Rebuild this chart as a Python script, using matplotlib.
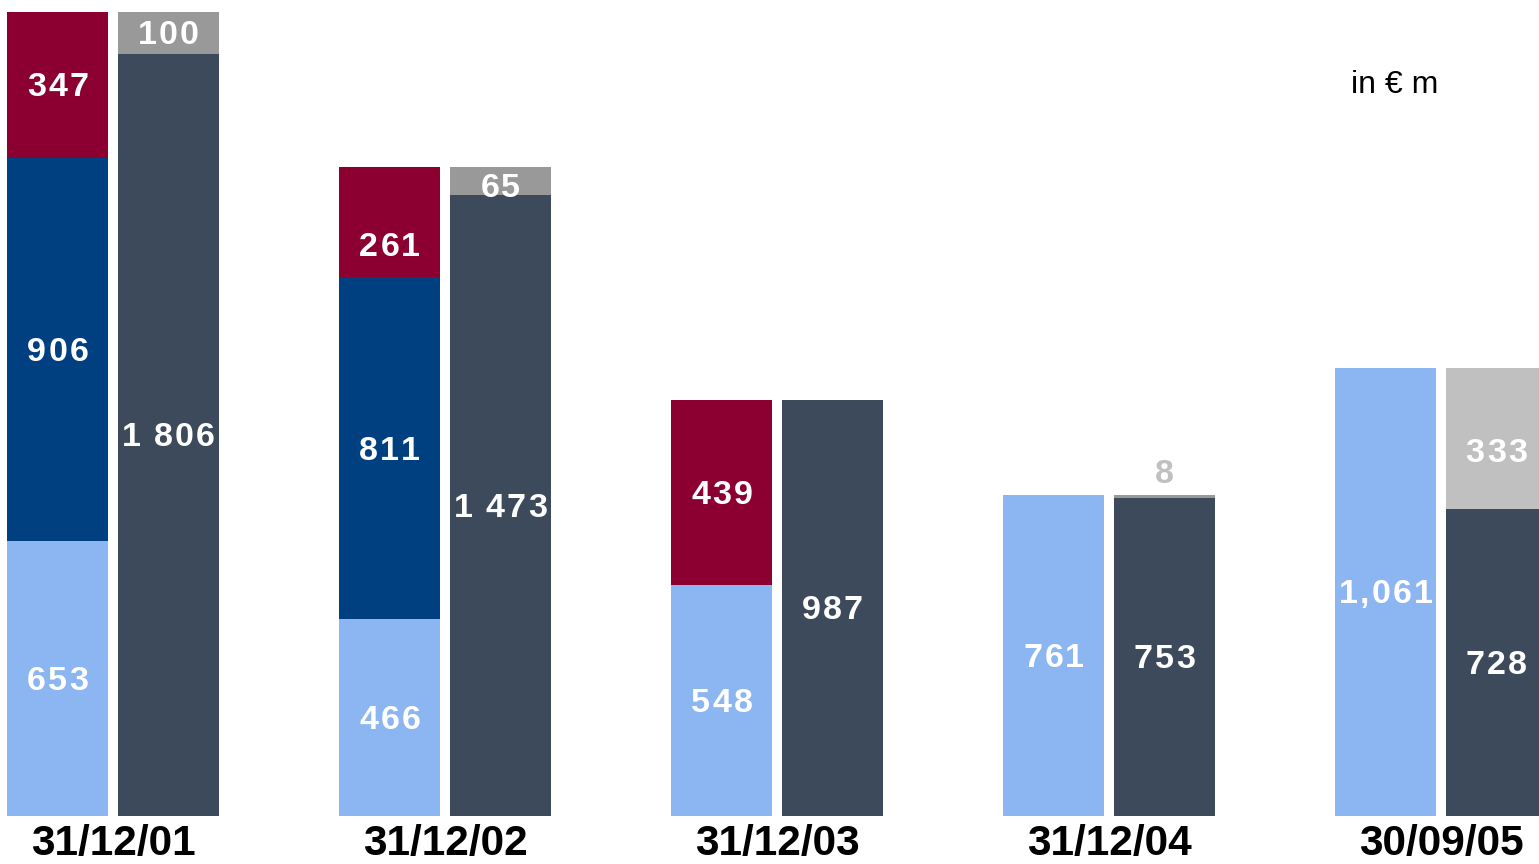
import numpy as np
import matplotlib.pyplot as plt

plt.rcParams['font.family'] = ['Liberation Sans', 'DejaVu Sans']

dates = ['31/12/01', '31/12/02', '31/12/03', '31/12/04', '30/09/05']

# left bar stack (bottom -> top)
light_blue = [653, 466, 548, 761, 1061]
dark_blue = [906, 811, 0, 0, 0]
crimson = [347, 261, 439, 0, 0]

# right bar stack (bottom -> top)
slate = [1806, 1473, 987, 753, 728]
top_grey = [100, 65, 0, 8, 333]

slate_labels = ['1 806', '1 473', '987', '753', '728']
light_labels = ['653', '466', '548', '761', '1,061']
grey_colors = ['#999999', '#999999', '#999999', '#999999', '#C0C0C0']

C_LIGHT = '#8CB6F2'
C_DARK = '#003F80'
C_RED = '#8B0030'
C_SLATE = '#3D4A5B'

FS = 24.5
TRACK = 1.6
ADV = {',': 0.278, ' ': 0.25}


def tracked(ax, x, y, s, dy=-2.0, color='white'):
    # draw label one character at a time to get the wide letter spacing
    adv = [ADV.get(c, 0.556) * FS for c in s]
    total = sum(adv) + TRACK * (len(s) - 1)
    pos = -total / 2
    for c, a in zip(s, adv):
        if c != ' ':
            ax.annotate(c, (x, y), xytext=(pos + a / 2, dy), textcoords='offset points',
                        ha='center', va='center', color=color, fontsize=FS,
                        fontweight='bold', annotation_clip=False)
        pos += a + TRACK


fig = plt.figure(figsize=(15.39, 8.64), dpi=100)
ax = fig.add_axes([0, 48 / 864, 1, 816 / 864])

x = np.arange(len(dates))
w = 101 / 332
off = 55.3 / 332
xl = x - off
xr = x + off

ax.bar(xl, light_blue, w, color=C_LIGHT)
ax.bar(xl, dark_blue, w, bottom=light_blue, color=C_DARK)
b2 = np.array(light_blue) + np.array(dark_blue)
ax.bar(xl, crimson, w, bottom=b2, color=C_RED)
ax.bar(xr, slate, w, color=C_SLATE)
ax.bar(xr, top_grey, w, bottom=slate, color=grey_colors)

for i in range(len(dates)):
    tracked(ax, xl[i], light_blue[i] / 2, light_labels[i])
    if dark_blue[i]:
        tracked(ax, xl[i], light_blue[i] + dark_blue[i] / 2, str(dark_blue[i]))
    if crimson[i]:
        dy = -18 if i == 1 else -2
        tracked(ax, xl[i], b2[i] + crimson[i] / 2, str(crimson[i]), dy=dy)
    tracked(ax, xr[i], slate[i] / 2, slate_labels[i])
    if top_grey[i] >= 50:
        dy = {1: -5.5, 4: -11}.get(i, -2)
        tracked(ax, xr[i], slate[i] + top_grey[i] / 2, str(top_grey[i]), dy=dy)
    elif top_grey[i]:
        tracked(ax, xr[i], slate[i] + top_grey[i] + 55, str(top_grey[i]), color='#C0C0C0')
    ax.text(x[i], -66, dates[i], fontsize=30.5, fontweight='bold', ha='center', va='center',
            clip_on=False)

ax.text((1438 - 113) / 332, 1734, 'in € m', fontsize=23, ha='right', va='center')

ax.set_xlim(-113 / 332, (1539 - 113) / 332)
ax.set_ylim(0, 1906 * 816 / 804)
ax.axis('off')

fig.savefig('out.png', dpi=100)
